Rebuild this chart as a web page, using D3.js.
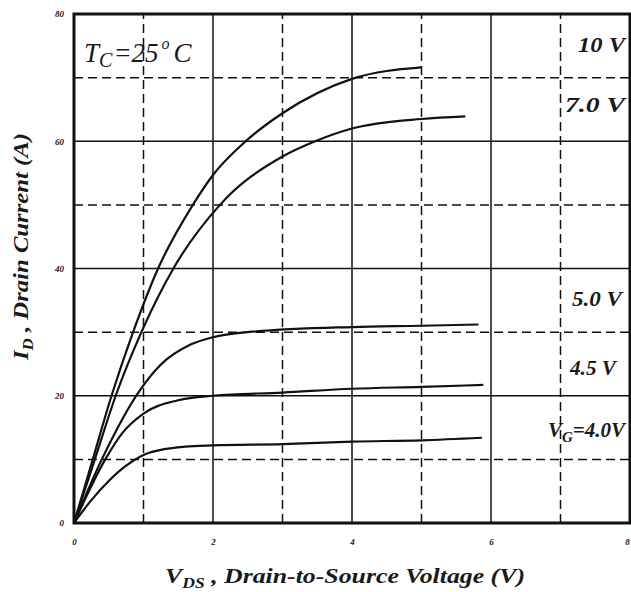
<!DOCTYPE html>
<html>
<head>
<meta charset="utf-8">
<script src="https://cdn.jsdelivr.net/npm/d3@7"></script>
<style>
  body { margin: 0; background: #fff; }
  text { font-family: "Liberation Serif", "Times New Roman", serif; font-style: italic; fill: #1a1a1a; }
</style>
</head>
<body>
<svg width="631" height="592"></svg>
<script>
// data (VDS in V, ID in A)
var vg40 = [[0, 0], [0.25, 3.6], [0.5, 6.6], [0.75, 9], [1, 10.7], [1.3, 11.6], [1.6, 12], [2, 12.2], [3, 12.4], [4, 12.8], [5, 13], [5.87, 13.4]];
var vg45 = [[0, 0], [0.45, 10], [0.7, 14.2], [1, 17.2], [1.5, 19.3], [2, 20], [3, 20.5], [4, 21.1], [5, 21.4], [5.89, 21.7]];
var vg50 = [[0, 0], [0.4, 10], [0.95, 20.9], [1.24, 24.8], [1.67, 28], [2, 29.2], [2.5, 30], [4, 30.8], [5, 31], [5.82, 31.2]];
var vg70 = [[0, 0], [0.3, 10], [0.6, 20], [0.97, 30], [1.43, 40], [2.1, 50], [3, 57.6], [3.47, 60], [4, 62], [5, 63.5], [5.63, 63.9]];
var vg10 = [[0, 0], [0.27, 10], [0.54, 20], [0.85, 30], [1.21, 40], [1.71, 50], [2, 54.7], [2.47, 60], [3, 64.4], [4, 69.8], [5, 71.6]];

var xTicks = [0, 2, 4, 6, 8];
var yTicks = [0, 20, 40, 60, 80];
var xDashed = [1, 3, 5, 7];
var yDashed = [10, 30, 50, 70];

var svg = d3.select("svg");

var x = d3.scaleLinear().domain([0, 8]).range([74, 630]);
var y = d3.scaleLinear().domain([0, 80]).range([523, 14]);

var g = svg.append("g");

// solid grid
g.selectAll(".vsolid").data(xTicks.slice(1, -1)).enter().append("line")
    .attr("x1", function (d) { return x(d); }).attr("x2", function (d) { return x(d); })
    .attr("y1", y(0)).attr("y2", y(80))
    .attr("stroke", "#111").attr("stroke-width", 1.5);
g.selectAll(".hsolid").data(yTicks.slice(1, -1)).enter().append("line")
    .attr("y1", function (d) { return y(d); }).attr("y2", function (d) { return y(d); })
    .attr("x1", x(0)).attr("x2", x(8))
    .attr("stroke", "#111").attr("stroke-width", 1.5);

// dashed grid
g.selectAll(".vdash").data(xDashed).enter().append("line")
    .attr("x1", function (d) { return x(d); }).attr("x2", function (d) { return x(d); })
    .attr("y1", y(0)).attr("y2", y(80))
    .attr("stroke", "#111").attr("stroke-width", 1.5).attr("stroke-dasharray", "9,5");
g.selectAll(".hdash").data(yDashed).enter().append("line")
    .attr("y1", function (d) { return y(d); }).attr("y2", function (d) { return y(d); })
    .attr("x1", x(0)).attr("x2", x(8))
    .attr("stroke", "#111").attr("stroke-width", 1.5).attr("stroke-dasharray", "9,5");

// curves
var line = d3.line()
    .x(function (d) { return x(d[0]); })
    .y(function (d) { return y(d[1]); })
    .curve(d3.curveMonotoneX);

g.selectAll(".curve").data([vg40, vg45, vg50, vg70, vg10]).enter().append("path")
    .attr("d", line)
    .attr("fill", "none")
    .attr("stroke", "#111")
    .attr("stroke-width", 2.2);

// border
g.append("rect")
    .attr("x", x(0)).attr("y", y(80))
    .attr("width", x(8) - x(0)).attr("height", y(0) - y(80))
    .attr("fill", "none").attr("stroke", "#111").attr("stroke-width", 3);

// axes (labels only)
var xAxis = svg.append("g")
    .attr("transform", "translate(0," + y(0) + ")")
    .call(d3.axisBottom(x).tickValues(xTicks).tickSize(0).tickPadding(16).tickFormat(d3.format("d")));
var yAxis = svg.append("g")
    .attr("transform", "translate(" + x(0) + ",0)")
    .call(d3.axisLeft(y).tickValues(yTicks).tickSize(0).tickPadding(10).tickFormat(d3.format("d")));
[xAxis, yAxis].forEach(function (a) {
    a.select(".domain").remove();
    a.selectAll("text")
        .style("font-family", "'Liberation Serif', serif")
        .style("font-style", "italic").style("font-weight", "bold")
        .style("font-size", "9px").attr("fill", "#333");
});
// last x label sits on the edge, pull it in a little
xAxis.selectAll(".tick").filter(function (d) { return d === 8; }).select("text").attr("dx", -3);

// curve labels
var lbl = svg.append("g")
    .style("font-weight", "bold").style("font-size", "21px");
function addLabel(txt, xr, yb, w) {
    lbl.append("text").attr("x", xr - w).attr("y", yb)
        .attr("textLength", w).attr("lengthAdjust", "spacingAndGlyphs")
        .text(txt);
}
addLabel("10 V", 625, 52, 47);
addLabel("7.0 V", 625, 112, 60);
addLabel("5.0 V", 622, 306, 50);
addLabel("4.5 V", 616, 375, 46);
var vgText = lbl.append("text").attr("x", 548).attr("y", 437);
vgText.append("tspan").text("V");
vgText.append("tspan").attr("dy", 5).style("font-size", "15px").text("G");
vgText.append("tspan").attr("dy", -5).text("=4.0V");

// case temperature
var tc = svg.append("text").attr("x", 84).attr("y", 62).style("font-size", "27px");
tc.append("tspan").text("T");
tc.append("tspan").attr("dy", 5).style("font-size", "20px").text("C");
tc.append("tspan").attr("dy", -5).attr("dx", 1).text("=25");
tc.append("tspan").attr("dy", -13).attr("dx", 3).style("font-size", "16px").text("o");
tc.append("tspan").attr("dy", 13).attr("dx", 4).text("C");

// axis titles
var xt = svg.append("text").attr("x", 165).attr("y", 583)
    .attr("textLength", 360).attr("lengthAdjust", "spacingAndGlyphs")
    .style("font-weight", "bold").style("font-size", "22px");
xt.append("tspan").text("V");
xt.append("tspan").attr("dy", 5).style("font-size", "15px").text("DS");
xt.append("tspan").attr("dy", -5).text(" , Drain-to-Source Voltage (V)");

var yt = svg.append("text").attr("transform", "translate(28,360) rotate(-90)")
    .attr("textLength", 227).attr("lengthAdjust", "spacingAndGlyphs")
    .style("font-weight", "bold").style("font-size", "22px");
yt.append("tspan").text("I");
yt.append("tspan").attr("dy", 5).style("font-size", "15px").text("D");
yt.append("tspan").attr("dy", -5).text(" , Drain Current (A)");
</script>
</body>
</html>
